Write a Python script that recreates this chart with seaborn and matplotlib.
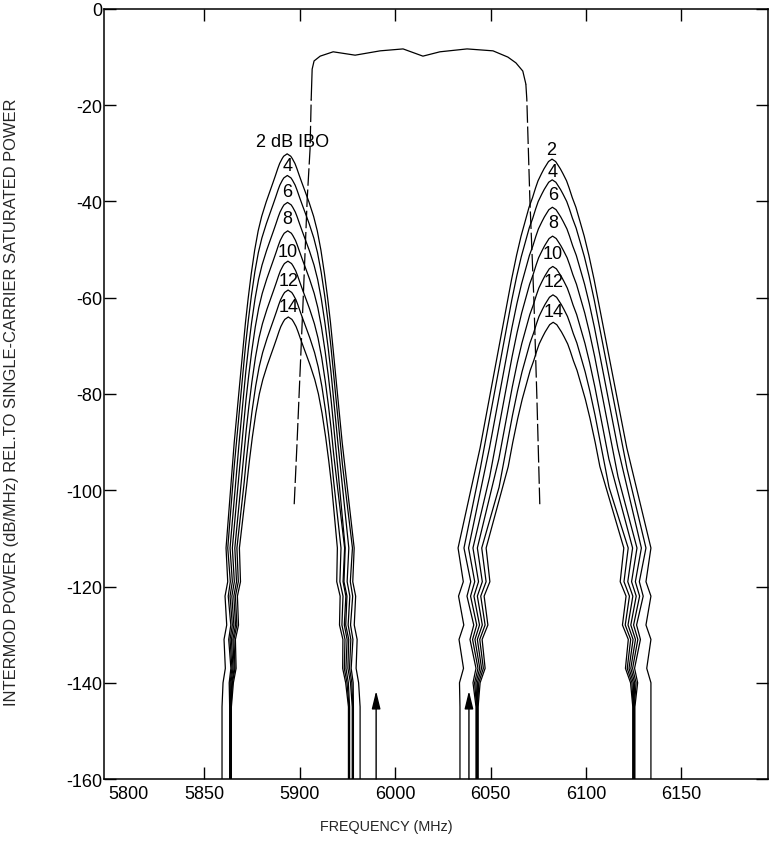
import matplotlib
matplotlib.use("Agg")
import matplotlib.pyplot as plt
import seaborn as sns

# ---- data -----------------------------------------------------------------
ibo_db = [2, 4, 6, 8, 10, 12, 14]

# lower intermod lobe (2f1 - f2)
lower_center_mhz = [5943.5, 5943.6, 5943.7, 5943.8, 5943.9, 5944.0, 5944.1]
lower_peak_db = [-30.1, -34.6, -40.2, -46.1, -52.4, -58.4, -64.0]
# upper intermod lobe (2f2 - f1)
upper_center_mhz = [6082.2, 6082.3, 6082.4, 6082.5, 6082.6, 6082.7, 6082.8]
upper_peak_db = [-31.2, -35.5, -41.2, -47.2, -53.5, -59.4, -65.1]

# arch profile: dB below the peak vs. distance (MHz) from the peak
arch_drop_db = [0, 0.5, 1, 2, 3, 4.5, 6, 8, 10, 13, 16, 20, 25, 30, 35, 40, 50, 60, 70]
lower_left_mhz = [0, 1.83, 2.62, 3.92, 4.86, 6.12, 7.43, 9.21, 10.98, 13.34, 15.17,
                  17.0, 18.83, 20.4, 21.81, 23.01, 25.37, 27.72, 29.81]
lower_right_mhz = [0, 1.9, 2.72, 4.08, 5.05, 6.36, 7.72, 9.58, 11.42, 13.87, 15.78,
                   17.68, 19.58, 21.22, 22.68, 23.93, 26.38, 28.83, 31.0]
upper_left_mhz = [0, 1.83, 2.62, 4.18, 5.49, 7.32, 8.63, 10.2, 12.03, 14.12, 16.21,
                  18.57, 21.18, 23.54, 25.89, 28.24, 32.95, 37.66, 41.32]
upper_right_mhz = [0, 1.9, 2.72, 4.35, 5.71, 7.61, 8.97, 10.61, 12.51, 14.69, 16.86,
                   19.31, 22.03, 24.48, 26.93, 29.37, 34.27, 39.17, 42.97]
floor_db = -100

# skirt edges where each curve falls to the floor
lower_left_edge = [5909.4, 5913.4, 5913.6, 5913.8, 5914.0, 5914.1, 5914.3]
lower_right_edge = [5981.7, 5978.2, 5977.9, 5977.6, 5976.2, 5975.9, 5975.6]
upper_left_edge = [6034.0, 6042.4, 6042.7, 6042.9, 6043.1, 6043.3, 6043.5]
upper_right_edge = [6134.0, 6125.6, 6125.3, 6125.1, 6124.9, 6124.7, 6124.5]

# where each curve enters its ragged tail (MHz inward of its edge)
lower_left_entry = [2.1, -1.0, 0.0, 1.0, 2.1, 3.1, 4.2]
lower_right_entry = [3.1, 0.5, 2.1, 3.7, 2.6, 4.2, 5.8]
upper_left_entry = [-1.0, -6.3, -4.2, -2.1, 0.0, 2.1, 4.2]
upper_right_entry = [0.0, -5.8, -3.7, -1.6, 0.5, 2.6, 4.7]

# ragged tail: level (dB), share of the entry offset kept, sawtooth (MHz)
tail_db = [-112, -119, -122, -128, -131, -137, -140, -145, -160]
tail_keep = [1.0, 0.85, 0.75, 0.6, 0.5, 0.35, 0.25, 0.0, 0.0]
lower_saw = [0.0, 1.2, 0.0, 1.2, 0.0, 1.0, 0.0, 0.0, 0.0]
upper_saw = [0.0, 2.6, 0.0, 2.6, 0.0, 2.2, 0.0, 0.0, 0.0]

# transponder passband response
filter_mhz = [5947.2, 5948.7, 5951.9, 5954.0, 5955.5, 5956.1, 5956.6, 5957.6, 5960.8,
              5967.6, 5979.1, 5992.2, 6004.2, 6014.6, 6023.5, 6037.7, 6051.3, 6059.1,
              6063.3, 6066.9, 6068.5, 6069.0, 6070.6, 6072.7, 6074.3, 6075.8]
filter_db = [-102.9, -90.0, -60.3, -39.5, -29.1, -18.7, -12.5, -10.8, -9.8,
             -8.9, -9.6, -8.7, -8.3, -9.8, -8.9, -8.3, -8.7, -10.0,
             -11.2, -12.9, -15.6, -18.7, -39.5, -60.3, -81.0, -102.9]

# carriers
carrier_mhz = [5990.1, 6038.7]
carrier_top_db = -141.7

# curve labels
lower_label_mhz = [5946.1, 5943.5, 5943.5, 5943.5, 5944.0, 5944.5, 5944.5]
lower_label_db = [-27.6, -32.6, -38.0, -43.6, -50.3, -56.5, -61.9]
lower_labels = ["2 dB IBO", "4", "6", "8", "10", "12", "14"]
upper_label_mhz = [6081.8, 6082.3, 6082.8, 6082.8, 6082.8, 6082.8, 6083.3]
upper_label_db = [-29.1, -33.7, -38.5, -44.3, -50.9, -56.7, -62.9]
upper_labels = ["2", "4", "6", "8", "10", "12", "14"]

x_tick_pos = [5860.4, 5900, 5950, 6000, 6050, 6100, 6150]
x_tick_labels = ["5800", "5850", "5900", "6000", "6050", "6100", "6150"]
y_ticks = [0, -20, -40, -60, -80, -100, -120, -140, -160]

# ---- figure ---------------------------------------------------------------
sns.set_theme(style="ticks")
plt.rcParams["font.family"] = ["Liberation Sans", "DejaVu Sans"]
plt.rcParams["axes.unicode_minus"] = False

fig = plt.figure(figsize=(7.71, 8.45), dpi=100)
ax = fig.add_axes([0.1349, 0.0769, 0.8612, 0.9113])

LW = 0.9


def curve(center, peak, left_off, right_off, l_edge, r_edge, l_entry, r_entry, saw):
    xs, ys = [], []
    # left tail, bottom to top
    for j in reversed(range(len(tail_db))):
        xs.append(l_edge + l_entry * tail_keep[j] + saw[j])
        ys.append(tail_db[j])
    # left flank, bottom to top
    keep = [i for i, d in enumerate(arch_drop_db) if peak - d >= floor_db]
    for i in reversed(keep):
        xs.append(center - left_off[i])
        ys.append(peak - arch_drop_db[i])
    # right flank, top to bottom
    for i in keep[1:]:
        xs.append(center + right_off[i])
        ys.append(peak - arch_drop_db[i])
    # right tail, top to bottom
    for j in range(len(tail_db)):
        xs.append(r_edge - r_entry * tail_keep[j] - saw[j])
        ys.append(tail_db[j])
    return xs, ys


for k in range(len(ibo_db)):
    xs, ys = curve(lower_center_mhz[k], lower_peak_db[k], lower_left_mhz, lower_right_mhz,
                   lower_left_edge[k], lower_right_edge[k],
                   lower_left_entry[k], lower_right_entry[k], lower_saw)
    sns.lineplot(x=xs, y=ys, sort=False, estimator=None, color="black", lw=LW, ax=ax)
    xs, ys = curve(upper_center_mhz[k], upper_peak_db[k], upper_left_mhz, upper_right_mhz,
                   upper_left_edge[k], upper_right_edge[k],
                   upper_left_entry[k], upper_right_entry[k], upper_saw)
    sns.lineplot(x=xs, y=ys, sort=False, estimator=None, color="black", lw=LW, ax=ax)

# passband: solid top, dashed skirts
sns.lineplot(x=filter_mhz[5:-5], y=filter_db[5:-5], sort=False, estimator=None,
             color="black", lw=LW, ax=ax)
sns.lineplot(x=filter_mhz[:6], y=filter_db[:6], sort=False, estimator=None,
             color="black", lw=LW, ax=ax, dashes=False, linestyle=(0, (14, 3)))
sns.lineplot(x=filter_mhz[-6:], y=filter_db[-6:], sort=False, estimator=None,
             color="black", lw=LW, ax=ax, dashes=False, linestyle=(0, (14, 3)))

for f in carrier_mhz:
    ax.annotate("", xy=(f, carrier_top_db), xytext=(f, -160),
                arrowprops=dict(arrowstyle="-|>,head_length=0.9,head_width=0.22",
                                color="black", lw=1.0, shrinkA=0, shrinkB=0))

for f, d, t in zip(lower_label_mhz, lower_label_db, lower_labels):
    ax.text(f, d, t, ha="center", va="center", fontsize=13, color="black")
for f, d, t in zip(upper_label_mhz, upper_label_db, upper_labels):
    ax.text(f, d, t, ha="center", va="center", fontsize=13, color="black")

ax.set_xlim(5847.6, 6195.3)
ax.set_ylim(-160, 0)
ax.set_xticks(x_tick_pos)
ax.set_xticklabels(x_tick_labels)
ax.set_yticks(y_ticks)
ax.set_yticklabels([str(v) for v in y_ticks])
ax.tick_params(direction="in", length=8.5, width=1.0, top=True, right=True,
               labelsize=13, colors="black")
ax.tick_params(axis="y", pad=1)
ax.tick_params(axis="x", pad=4)
first = ax.xaxis.get_major_ticks()[0]
first.tick1line.set_visible(False)
first.tick2line.set_visible(False)

for s in ax.spines.values():
    s.set_color("black")
    s.set_linewidth(1.1)

ax.set_xlabel("FREQUENCY (MHz)", fontsize=10.4)
ax.xaxis.set_label_coords(0.4247, -0.052)
ax.set_ylabel("INTERMOD POWER (dB/MHz) REL.TO SINGLE-CARRIER SATURATED POWER", fontsize=11.9)
ax.yaxis.set_label_coords(-0.128, 0.491)

fig.savefig("out.png", dpi=100, facecolor="white")
